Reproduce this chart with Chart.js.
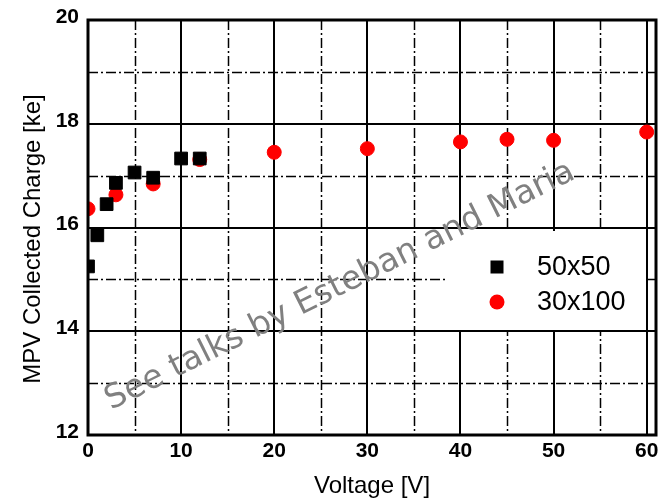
<!DOCTYPE html>
<html>
<head>
<meta charset="utf-8">
<script src="https://cdn.jsdelivr.net/npm/chart.js@4.4.1/dist/chart.umd.min.js"></script>
<style>
  html, body { margin: 0; padding: 0; background: #fff; }
  #box { width: 658px; height: 498px; }
</style>
</head>
<body>
<div id="box"><canvas id="grafico" width="658" height="498"></canvas></div>
<script>
// dados
const tensao50x50 = [0, 1, 2, 3, 5, 7, 10, 12];
const carga50x50 = [15.25, 15.85, 16.45, 16.86, 17.06, 16.96, 17.33, 17.33];
const tensao30x100 = [0, 3, 7, 12, 20, 30, 40, 45, 50, 60];
const carga30x100 = [16.36, 16.63, 16.84, 17.31, 17.45, 17.52, 17.65, 17.70, 17.68, 17.84];
const nomesSeries = ["50x50", "30x100"];
const ticksX = [0, 10, 20, 30, 40, 50, 60];
const ticksY = [12, 14, 16, 18, 20];

const pontos = (xs, ys) => xs.map((v, i) => ({ x: v, y: ys[i] }));

// linhas menores traço-ponto, caixa da legenda e moldura
const extras = {
    id: "extras",
    beforeLayout(chart) {
        // sem folga extra para os rotulos das pontas (o "60" encosta na borda)
        Object.values(chart.scales).forEach((s) => {
            s._calculatePadding = function () {
                this.paddingLeft = this.paddingRight = this.paddingTop = this.paddingBottom = 0;
            };
        });
    },
    beforeDatasetsDraw(chart) {
        const { ctx, chartArea: a, scales: { x, y } } = chart;
        ctx.save();
        ctx.strokeStyle = "#000";
        ctx.lineWidth = 1.5;
        ctx.setLineDash([10, 3, 2, 3]);
        for (let i = 0; i < ticksX.length - 1; i++) {
            const px = Math.round(x.getPixelForValue((ticksX[i] + ticksX[i + 1]) / 2)) + 0.5;
            ctx.beginPath(); ctx.moveTo(px, a.top); ctx.lineTo(px, a.bottom); ctx.stroke();
        }
        for (let i = 0; i < ticksY.length - 1; i++) {
            const py = Math.round(y.getPixelForValue((ticksY[i] + ticksY[i + 1]) / 2)) + 0.5;
            ctx.beginPath(); ctx.moveTo(a.left, py); ctx.lineTo(a.right, py); ctx.stroke();
        }
        ctx.setLineDash([]);
        // fundo branco da legenda
        ctx.fillStyle = "#fff";
        ctx.fillRect(448, 231, 197, 99);
        ctx.restore();
    },
    afterDatasetsDraw(chart) {
        const { ctx, chartArea: a } = chart;
        ctx.save();
        ctx.strokeStyle = "#000";
        ctx.lineWidth = 3;
        ctx.strokeRect(a.left, a.top, a.right - a.left, a.bottom - a.top);
        ctx.restore();
    },
    afterDraw(chart) {
        const { ctx } = chart;
        ctx.save();
        // titulo do eixo y
        ctx.fillStyle = "#000";
        ctx.font = '24px "Liberation Sans", Arial, sans-serif';
        ctx.textAlign = "center";
        ctx.textBaseline = "middle";
        ctx.translate(33, 239);
        ctx.rotate(-Math.PI / 2);
        ctx.fillText("MPV Collected Charge [ke]", 0, 0);
        ctx.setTransform(1, 0, 0, 1, 0, 0);

        // marca d'agua
        ctx.fillStyle = "#808080";
        ctx.font = '33px "DejaVu Sans", sans-serif';
        ctx.textAlign = "left";
        ctx.textBaseline = "alphabetic";
        ctx.translate(111, 410);
        ctx.rotate(-26.5 * Math.PI / 180);
        ctx.fillText("See talks by Esteban and Maria", 0, 0);
        ctx.setTransform(1, 0, 0, 1, 0, 0);

        // legenda
        const ds = chart.data.datasets;
        ctx.fillStyle = ds[0].backgroundColor;
        ctx.fillRect(490.5, 260.5, 13, 13);
        ctx.fillStyle = ds[1].backgroundColor;
        ctx.beginPath(); ctx.arc(497, 302, 7.5, 0, Math.PI * 2); ctx.fill();
        ctx.fillStyle = "#000";
        ctx.font = '27px "Liberation Sans", Arial, sans-serif';
        ctx.textBaseline = "middle";
        ctx.fillText(ds[0].label, 537, 268);
        ctx.fillText(ds[1].label, 537, 303);
        ctx.restore();
    }
};

const fonteTick = { family: '"Liberation Sans", Arial, sans-serif', size: 21, weight: "bold" };

const grafico = new Chart(document.getElementById("grafico").getContext("2d"), {
    type: "scatter",
    data: {
        datasets: [
            {
                label: nomesSeries[0],
                data: pontos(tensao50x50, carga50x50),
                pointStyle: "rect",
                pointRadius: 9,
                borderWidth: 1,
                backgroundColor: "#000000",
                borderColor: "#000000",
            },
            {
                label: nomesSeries[1],
                data: pontos(tensao30x100, carga30x100),
                pointStyle: "circle",
                pointRadius: 7,
                borderWidth: 1,
                backgroundColor: "#ff0000",
                borderColor: "#ff0000",
            },
        ],
    },
    options: {
        responsive: false,
        animation: false,
        layout: { autoPadding: false, padding: { top: 20, right: 2, left: 0, bottom: 0 } },
        plugins: { legend: { display: false }, tooltip: { enabled: false } },
        scales: {
            x: {
                type: "linear",
                min: 0,
                max: 61,
                afterFit: (s) => { s.height = 63; },
                ticks: {
                    stepSize: 10,
                    includeBounds: false,
                    color: "#000",
                    font: fonteTick,
                    padding: 4,
                    maxRotation: 0,
                    callback: (v) => (ticksX.includes(v) ? String(v) : ""),
                },
                grid: { color: "#000", lineWidth: 2, drawTicks: false },
                border: { display: false },
                title: {
                    display: true,
                    text: "Voltage [V]",
                    color: "#000",
                    font: { family: '"Liberation Sans", Arial, sans-serif', size: 24, lineHeight: 1 },
                    padding: { top: 0, bottom: 0 },
                },
            },
            y: {
                type: "linear",
                min: 12,
                max: 20,
                afterFit: (s) => { s.width = 88; },
                ticks: {
                    stepSize: 2,
                    color: "#000",
                    font: fonteTick,
                    padding: 9,
                    labelOffset: -3,
                    callback: (v) => (ticksY.includes(v) ? String(v) : ""),
                },
                grid: { color: "#000", lineWidth: 2, drawTicks: false },
                border: { display: false },
            },
        },
    },
    plugins: [extras],
});
</script>
</body>
</html>
